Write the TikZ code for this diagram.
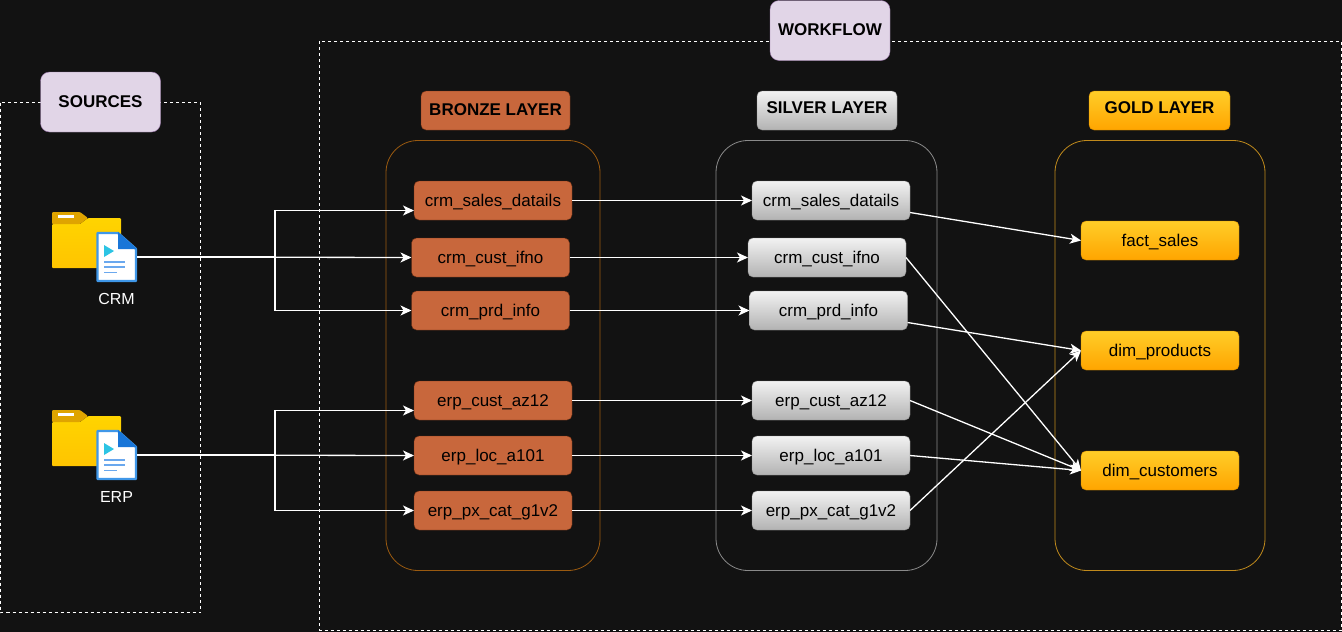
\documentclass[tikz,border=0pt]{standalone}
\usepackage{fontspec}
\setmainfont{Liberation Sans}
\usetikzlibrary{calc, arrows.meta}
\definecolor{pagebg}{HTML}{121212}
\definecolor{lilacfill}{HTML}{E1D5E7}
\definecolor{lilacline}{HTML}{9673A6}
\definecolor{bronzefill}{HTML}{C8673C}
\definecolor{bronzeline}{HTML}{6D2E12}
\definecolor{bronzeedge}{HTML}{9A5A10}
\definecolor{silveredge}{HTML}{8A8A8A}
\definecolor{goldedge}{HTML}{C08A1C}
\definecolor{goldtop}{HTML}{FFCD28}
\definecolor{goldlow}{HTML}{FFA500}
\definecolor{foldertop}{HTML}{FFD400}
\definecolor{folderlow}{HTML}{FFC400}
\definecolor{foldertab}{HTML}{DFA400}
\definecolor{docedge}{HTML}{3F97E8}
\definecolor{doccorner}{HTML}{1976D8}
\definecolor{docplay}{HTML}{2CC4E4}
\definecolor{docline}{HTML}{6AA8EE}
\tikzset{
    box/.style={draw,rounded corners=5pt,inner sep=0pt,outer sep=0pt,text=black,font=\fontsize{17}{20}\selectfont},
    bronzebox/.style={box,fill=bronzefill,draw=bronzeline},
    silverbox/.style={box,top color=white!95!black,bottom color=black!30,draw=black!45},
    goldbox/.style={box,top color=goldtop,bottom color=goldlow,draw=goldlow!80!black},
    titlebox/.style={font=\fontsize{17}{20}\selectfont\bfseries},
    tagbox/.style={box,titlebox,fill=lilacfill,draw=lilacline,rounded corners=9pt},
    layerbox/.style={draw,rounded corners=32pt,line width=0.8pt},
    zone/.style={draw=white,dashed,dash pattern=on 3pt off 3pt,line width=0.8pt},
    flow/.style={draw=white,line width=1.3pt,-{Stealth[length=11pt,width=10pt,inset=3pt]}},
    filelabel/.style={text=white,font=\fontsize{16}{19}\selectfont},
    sourceicon/.pic={
        \fill[rounded corners=1pt,top color=foldertop,bottom color=folderlow] (0,12)--(28,12)--(36,6)--(69,6)--(69,56)--(0,56)--cycle;
        \fill[rounded corners=1pt,foldertab] (0,0)--(28,0)--(36,6)--(28,12)--(0,12)--cycle;
        \fill[white] (6,3) rectangle (22,6);
        \draw[fill=white,draw=docedge,line width=2.4pt,line join=round] (45.5,21)--(66,21)--(84,37)--(84,69)--(45.5,69)--cycle;
        \fill[doccorner] (66,20)--(85,37)--(66,37)--cycle;
        \fill[docplay] (52,33)--(62,39)--(52,45)--cycle;
        \foreach \ly/\lx in {50/73,55/73,60.5/65}{
            \draw[docline,line width=1.8pt] (52,\ly)--(\lx,\ly);
        }
    },
}
\begin{document}
\begin{tikzpicture}[x=1pt,y=-1pt]
    \fill[pagebg] (0,0) rectangle (1342,632);
    \useasboundingbox (0,0) rectangle (1342,632);
    % dashed zones
    \draw[zone] (0.5,102.5) rectangle (200.5,612.5);
    \draw[zone] (319.5,41) rectangle (1341,630);
    \node[tagbox,minimum width=120,minimum height=60] (sources) at (100.5,102) {SOURCES};
    \node[tagbox,minimum width=120,minimum height=60] (workflow) at (830,30.5) {\raisebox{2pt}{WORKFLOW}};
    % layers
    \node[layerbox,draw=bronzeedge,minimum width=214,minimum height=430] (bronze) at (493,355.5) {};
    \node[layerbox,draw=silveredge,minimum width=221,minimum height=430] (silver) at (826.5,355.5) {};
    \node[layerbox,draw=goldedge,minimum width=210,minimum height=430] (gold) at (1160,355.5) {};
    \node[box,titlebox,fill=bronzefill,draw=bronzeline,minimum width=149,minimum height=39] (bronzetitle) at (495.5,110.5) {\raisebox{1pt}{BRONZE LAYER}};
    \node[silverbox,titlebox,minimum width=140,minimum height=39] (silvertitle) at (827,110.5) {\raisebox{6pt}{SILVER LAYER}};
    \node[goldbox,titlebox,minimum width=141,minimum height=39] (goldtitle) at (1159.5,110.5) {\raisebox{6pt}{GOLD LAYER}};
    % sources
    \pic at (52,212) {sourceicon};
    \pic at (52,410) {sourceicon};
    \node[filelabel] (crmlabel) at (116.5,298.5) {CRM};
    \node[filelabel] (erplabel) at (116.5,496.5) {ERP};
    \coordinate (crm) at (137,257);
    \coordinate (erp) at (137,455);
    % tables
    \foreach \nm/\lbl/\bx/\sx/\yy in {sales/crm\_sales\_datails/493/831/200.5,
            cust/crm\_cust\_ifno/490.5/827/257.5,
            prd/crm\_prd\_info/490.5/828.5/310.5,
            az/erp\_cust\_az12/493/831/400.5,
            loc/erp\_loc\_a101/493/831/455.5,
            px/erp\_px\_cat\_g1v2/493/831/510.5}{
        \node[bronzebox,minimum width=158,minimum height=39] (b\nm) at (\bx,\yy) {\rule{0pt}{15pt}\lbl};
        \node[silverbox,minimum width=158,minimum height=39] (s\nm) at (\sx,\yy) {\rule{0pt}{15pt}\lbl};
        \draw[flow] (b\nm.east) -- (s\nm.west);
    }
    \foreach \nm/\lbl/\yy in {fact/fact\_sales/240.5,prod/dim\_products/350.5,dcust/dim\_customers/470.5}{
        \node[goldbox,minimum width=158,minimum height=39] (g\nm) at (1160,\yy) {\rule{0pt}{15pt}\lbl};
    }
    % source feeds
    \coordinate (crmtrunk) at (275,257);
    \coordinate (erptrunk) at (275,455);
    \draw[flow] (crm) -- (crmtrunk) |- ($(bsales.west)+(0,10)$);
    \draw[flow] (crm) -- (bcust.west);
    \draw[flow] (crm) -- (crmtrunk) |- (bprd.west);
    \draw[flow] (erp) -- (erptrunk) |- ($(baz.west)+(0,10)$);
    \draw[flow] (erp) -- (bloc.west);
    \draw[flow] (erp) -- (erptrunk) |- (bpx.west);
    % silver to gold
    \draw[flow] ($(ssales.east)+(0,12)$) -- (gfact.west);
    \draw[flow] (scust.east) -- (gdcust.west);
    \draw[flow] ($(sprd.east)+(0,12)$) -- (gprod.west);
    \draw[flow] (saz.east) -- (gdcust.west);
    \draw[flow] (sloc.east) -- (gdcust.west);
    \draw[flow] (spx.east) -- (gprod.west);
\end{tikzpicture}
\end{document}
